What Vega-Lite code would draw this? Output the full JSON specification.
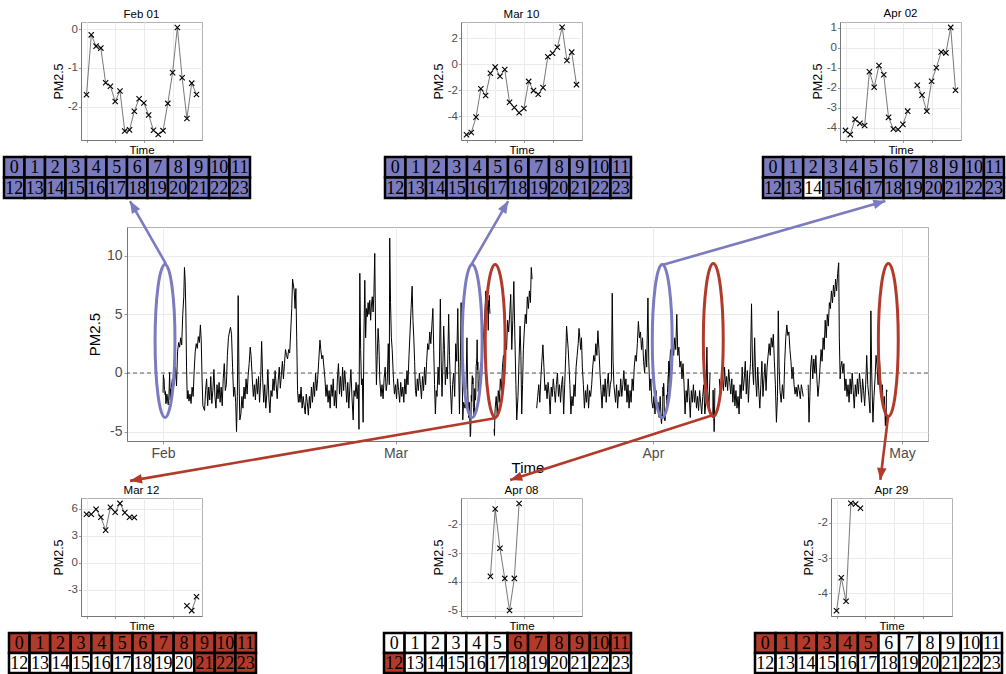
{
"$schema": "https://vega.github.io/schema/vega-lite/v6.json",
"padding": {"left": 0, "top": 7, "right": 0, "bottom": 0},
"background": "white",
"spacing": -1,
"bounds": "full",
"config": {
  "view": {"stroke": null},
  "font": "Liberation Sans",
  "axis": {"labelFont": "Liberation Sans", "titleFont": "Liberation Sans", "labelColor": "#4D4D4D", "titleColor": "#000000", "titleFontWeight": "normal", "gridColor": "#EBEBEB", "gridWidth": 1, "tickColor": "#999999", "domainColor": "#777777", "labelFlush": false},
  "title": {"font": "Liberation Sans", "fontWeight": "normal", "color": "#000000", "fontSize": 11.5, "offset": 2}
},
"datasets": {
  "main": [
{"d":0,"v":-1.69},{"d":0.042,"v":-0.15},{"d":0.083,"v":-0.44},{"d":0.125,"v":-0.49},{"d":0.167,"v":-1.38},{"d":0.208,"v":-1.47},{"d":0.25,"v":-1.86},{"d":0.292,"v":-1.59},{"d":0.333,"v":-2.62},{"d":0.375,"v":-2.59},{"d":0.417,"v":-2.11},{"d":0.458,"v":-1.79},{"d":0.5,"v":-1.9},{"d":0.542,"v":-2.21},{"d":0.583,"v":-2.6},{"d":0.625,"v":-2.71},{"d":0.667,"v":-2.61},{"d":0.708,"v":-1.91},{"d":0.75,"v":-1.12},{"d":0.792,"v":0.04},{"d":0.833,"v":-1.25},{"d":0.875,"v":-2.3},{"d":0.917,"v":-1.39},{"d":0.958,"v":-1.68},
{"d":1,"v":-1.2},{"d":1.125,"v":-0.5},{"d":1.25,"v":-1.3},{"d":1.375,"v":-0.8},{"d":1.5,"v":0.5},{"d":1.625,"v":-1.1},{"d":1.75,"v":1.8},{"d":1.875,"v":2.6},
{"d":2,"v":2.2},{"d":2.125,"v":3},{"d":2.25,"v":2.4},{"d":2.375,"v":5},{"d":2.5,"v":6.5},{"d":2.58,"v":9},{"d":2.67,"v":7.8},{"d":2.75,"v":5.2},{"d":2.83,"v":0.5},{"d":2.92,"v":-2.2},
{"d":3,"v":-1.5},{"d":3.125,"v":-2.4},{"d":3.25,"v":-1.8},{"d":3.375,"v":-2.6},{"d":3.5,"v":-1.2},{"d":3.625,"v":-2},{"d":3.75,"v":0.2},{"d":3.875,"v":1.8},
{"d":4,"v":2.5},{"d":4.125,"v":2.1},{"d":4.25,"v":3.1},{"d":4.375,"v":2.6},{"d":4.5,"v":4.1},{"d":4.6,"v":2.8},{"d":4.7,"v":-0.5},{"d":4.8,"v":-2.8},
{"d":5,"v":-3.2},{"d":5.125,"v":-1.5},{"d":5.25,"v":-0.5},{"d":5.375,"v":-2.8},{"d":5.5,"v":-1.2},{"d":5.625,"v":-2.3},{"d":5.75,"v":-0.3},{"d":5.875,"v":-2.6},
{"d":6,"v":-1.5},{"d":6.125,"v":0.3},{"d":6.25,"v":-2},{"d":6.375,"v":-3},{"d":6.5,"v":-1},{"d":6.625,"v":-2.2},{"d":6.75,"v":-0.8},{"d":6.875,"v":-2.5},
{"d":7,"v":-1.2},{"d":7.125,"v":-2.8},{"d":7.25,"v":-0.5},{"d":7.375,"v":0.8},{"d":7.5,"v":-1.5},{"d":7.625,"v":-1},{"d":7.75,"v":1.5},{"d":7.875,"v":3},
{"d":8,"v":3.5},{"d":8.125,"v":3.9},{"d":8.25,"v":3.3},{"d":8.375,"v":0.5},{"d":8.5,"v":-2},{"d":8.625,"v":-1.2},{"d":8.75,"v":-2.5},{"d":8.85,"v":-5},
{"d":8.95,"v":-2},{"d":9.05,"v":6.6},{"d":9.15,"v":-0.5},{"d":9.25,"v":-4},{"d":9.375,"v":-3.5},{"d":9.5,"v":-2},{"d":9.625,"v":-3},{"d":9.75,"v":-1.2},{"d":9.875,"v":-2.2},
{"d":10,"v":-0.5},{"d":10.125,"v":-1.8},{"d":10.25,"v":-0.2},{"d":10.375,"v":0.8},{"d":10.5,"v":2.2},{"d":10.6,"v":1.5},{"d":10.75,"v":-0.5},{"d":10.875,"v":-2},
{"d":11,"v":-1},{"d":11.125,"v":-2.3},{"d":11.25,"v":-0.5},{"d":11.375,"v":-1.8},{"d":11.5,"v":-0.3},{"d":11.625,"v":-2.5},{"d":11.75,"v":-0.8},{"d":11.875,"v":2.7},
{"d":12,"v":-0.5},{"d":12.125,"v":-2.5},{"d":12.25,"v":-1},{"d":12.375,"v":-3},{"d":12.5,"v":-1.8},{"d":12.625,"v":0.3},{"d":12.75,"v":-2.2},{"d":12.875,"v":-3.4},
{"d":13,"v":-1.5},{"d":13.125,"v":-2},{"d":13.25,"v":-0.5},{"d":13.375,"v":-1.5},{"d":13.5,"v":0.2},{"d":13.625,"v":-1},{"d":13.75,"v":-2.2},{"d":13.875,"v":-0.6},
{"d":14,"v":0.5},{"d":14.125,"v":-1.3},{"d":14.25,"v":-0.2},{"d":14.375,"v":1},{"d":14.5,"v":-0.5},{"d":14.625,"v":0.8},{"d":14.75,"v":2},{"d":14.875,"v":1.5},
{"d":15,"v":1.2},{"d":15.125,"v":2},{"d":15.25,"v":1.7},{"d":15.375,"v":3.5},{"d":15.5,"v":5.5},{"d":15.6,"v":8},{"d":15.7,"v":7.5},{"d":15.8,"v":7},{"d":15.9,"v":5.5},
{"d":16,"v":7.2},{"d":16.1,"v":3},{"d":16.2,"v":-1.5},{"d":16.3,"v":-2.5},{"d":16.4,"v":-1.8},{"d":16.5,"v":-2.5},{"d":16.625,"v":-1.2},{"d":16.75,"v":-3},{"d":16.875,"v":-2},
{"d":17,"v":-2.8},{"d":17.125,"v":-3.5},{"d":17.25,"v":-1.8},{"d":17.375,"v":-2.5},{"d":17.5,"v":-3.6},{"d":17.625,"v":-2},{"d":17.75,"v":-3},{"d":17.875,"v":-1.2},
{"d":18,"v":-2.5},{"d":18.125,"v":-0.8},{"d":18.25,"v":-2},{"d":18.375,"v":0},{"d":18.5,"v":-1.5},{"d":18.625,"v":-0.5},{"d":18.75,"v":1},{"d":18.9,"v":2.8},
{"d":19,"v":2},{"d":19.125,"v":1.2},{"d":19.25,"v":1.5},{"d":19.375,"v":0.5},{"d":19.5,"v":-0.5},{"d":19.625,"v":-2},{"d":19.75,"v":-1},{"d":19.875,"v":-2.5},
{"d":20,"v":-1.5},{"d":20.125,"v":-3},{"d":20.25,"v":-1},{"d":20.375,"v":-2},{"d":20.5,"v":-0.5},{"d":20.625,"v":-2.8},{"d":20.75,"v":-1.5},{"d":20.875,"v":-3},
{"d":21,"v":-0.5},{"d":21.125,"v":0.8},{"d":21.25,"v":-1.8},{"d":21.375,"v":-0.3},{"d":21.5,"v":-2},{"d":21.625,"v":0.5},{"d":21.75,"v":-1.5},{"d":21.875,"v":0.2},
{"d":22,"v":-1},{"d":22.125,"v":-2.5},{"d":22.25,"v":-0.8},{"d":22.375,"v":-3},{"d":22.5,"v":-1.2},{"d":22.625,"v":0.3},{"d":22.75,"v":-2},{"d":22.9,"v":-4},
{"d":23,"v":-1.5},{"d":23.125,"v":-2},{"d":23.25,"v":-0.8},{"d":23.375,"v":-2.2},{"d":23.5,"v":-1},{"d":23.6,"v":-4.8},{"d":23.7,"v":8.5},{"d":23.8,"v":2},{"d":23.9,"v":-1},
{"d":24,"v":-0.5},{"d":24.1,"v":-4.2},{"d":24.2,"v":3.5},{"d":24.3,"v":7.9},{"d":24.4,"v":3},{"d":24.5,"v":5.5},{"d":24.6,"v":4.8},{"d":24.7,"v":6},{"d":24.8,"v":5},{"d":24.9,"v":6.2},
{"d":25,"v":4.5},{"d":25.1,"v":5.8},{"d":25.2,"v":6.5},{"d":25.3,"v":5.2},{"d":25.4,"v":6.8},{"d":25.5,"v":10.2},{"d":25.6,"v":3.5},{"d":25.7,"v":-1},{"d":25.8,"v":1.5},{"d":25.9,"v":3.8},
{"d":26,"v":2.5},{"d":26.1,"v":-0.5},{"d":26.25,"v":-2},{"d":26.375,"v":-1},{"d":26.5,"v":-2.2},{"d":26.625,"v":-0.5},{"d":26.75,"v":0.5},{"d":26.875,"v":-1.5},
{"d":27,"v":-0.8},{"d":27.125,"v":2.5},{"d":27.25,"v":-1},{"d":27.3,"v":11.5},{"d":27.4,"v":6},{"d":27.5,"v":3},{"d":27.6,"v":2},{"d":27.75,"v":-0.5},{"d":27.875,"v":-1.8},
{"d":28,"v":-1},{"d":28.125,"v":-2.2},{"d":28.25,"v":-0.5},{"d":28.375,"v":-1.5},{"d":28.5,"v":-2.5},{"d":28.625,"v":-0.8},{"d":28.75,"v":-2},{"d":28.875,"v":-1.2},
{"d":29,"v":-2.5},{"d":29.125,"v":-0.5},{"d":29.25,"v":-1.8},{"d":29.375,"v":0.2},{"d":29.5,"v":-1},{"d":29.625,"v":1.5},{"d":29.75,"v":3.5},{"d":29.875,"v":5.5},
{"d":30,"v":7.4},{"d":30.1,"v":4.5},{"d":30.2,"v":3},{"d":30.3,"v":1},{"d":30.4,"v":-1.5},{"d":30.5,"v":-2},{"d":30.625,"v":-0.5},{"d":30.75,"v":-1.5},{"d":30.875,"v":0},
{"d":31,"v":-1},{"d":31.125,"v":-2.2},{"d":31.25,"v":-0.3},{"d":31.375,"v":-1.5},{"d":31.5,"v":0.5},{"d":31.625,"v":-1},{"d":31.75,"v":1},{"d":31.875,"v":2.5},
{"d":32,"v":2},{"d":32.125,"v":3.5},{"d":32.25,"v":2.5},{"d":32.375,"v":4},{"d":32.5,"v":5.5},{"d":32.6,"v":2},{"d":32.7,"v":-1},{"d":32.8,"v":-3.5},{"d":32.9,"v":-1.5},
{"d":33,"v":-2},{"d":33.125,"v":0.5},{"d":33.25,"v":-1},{"d":33.4,"v":6.3},{"d":33.5,"v":1},{"d":33.6,"v":-2},{"d":33.7,"v":0.5},{"d":33.8,"v":4},{"d":33.9,"v":2},
{"d":34,"v":-1},{"d":34.125,"v":0.5},{"d":34.25,"v":-0.5},{"d":34.4,"v":5},{"d":34.5,"v":1.5},{"d":34.6,"v":-1},{"d":34.75,"v":-3.5},{"d":34.875,"v":-1},
{"d":35,"v":0},{"d":35.125,"v":-2},{"d":35.25,"v":2.5},{"d":35.375,"v":1},{"d":35.5,"v":5.5},{"d":35.6,"v":0.5},{"d":35.7,"v":-3.5},{"d":35.8,"v":1},{"d":35.9,"v":6},
{"d":36,"v":2},{"d":36.1,"v":-4},{"d":36.2,"v":-2.5},{"d":36.375,"v":-3},{"d":36.5,"v":-1},{"d":36.6,"v":3},{"d":36.7,"v":-1.5},{"d":36.8,"v":-3.8},{"d":36.9,"v":-2.5},
{"d":37,"v":-5.43},{"d":37.042,"v":-5.26},{"d":37.083,"v":-4.08},{"d":37.125,"v":-1.89},{"d":37.167,"v":-2.42},{"d":37.208,"v":-0.71},{"d":37.25,"v":-0.23},{"d":37.292,"v":-0.94},{"d":37.333,"v":-0.41},{"d":37.375,"v":-2.93},{"d":37.417,"v":-3.34},{"d":37.458,"v":-3.75},{"d":37.5,"v":-3.42},{"d":37.542,"v":-1.33},{"d":37.583,"v":-2.04},{"d":37.625,"v":-2.32},{"d":37.667,"v":-1.81},{"d":37.708,"v":0.56},{"d":37.75,"v":0.84},{"d":37.792,"v":1.3},{"d":37.833,"v":2.83},{"d":37.875,"v":0.28},{"d":37.917,"v":0.92},{"d":37.958,"v":-1.58},
{"d":38,"v":-1.2},{"d":38.125,"v":-0.5},{"d":38.25,"v":0.8},{"d":38.375,"v":-0.2},{"d":38.5,"v":2},{"d":38.625,"v":3.5},{"d":38.75,"v":5},{"d":38.875,"v":7},
{"d":39,"v":5.4},{"d":39.042,"v":5.4},{"d":39.083,"v":5.96},{"d":39.125,"v":5.07},{"d":39.167,"v":3.64},{"d":39.208,"v":6.18},{"d":39.25,"v":5.63},{"d":39.292,"v":6.62},{"d":39.333,"v":5.59},{"d":39.375,"v":5.07},{"d":39.417,"v":5.04},{"d":39.6,"v":null},{"d":39.875,"v":-4.78},{"d":39.917,"v":-5.33},{"d":39.958,"v":-3.79},
{"d":40,"v":-3},{"d":40.125,"v":-2},{"d":40.25,"v":-3.5},{"d":40.375,"v":-1.5},{"d":40.5,"v":-2.5},{"d":40.625,"v":-0.5},{"d":40.75,"v":-1.5},{"d":40.875,"v":0.5},
{"d":41,"v":1.5},{"d":41.125,"v":0.5},{"d":41.25,"v":3},{"d":41.375,"v":2},{"d":41.5,"v":4.5},{"d":41.625,"v":3.5},{"d":41.75,"v":5},{"d":41.875,"v":6.7},
{"d":42,"v":2},{"d":42.125,"v":4.5},{"d":42.25,"v":7.8},{"d":42.375,"v":3},{"d":42.5,"v":-1},{"d":42.6,"v":-4},{"d":42.75,"v":-2},{"d":42.875,"v":1},
{"d":43,"v":4},{"d":43.1,"v":1.5},{"d":43.2,"v":-3.5},{"d":43.3,"v":-1},{"d":43.4,"v":2},{"d":43.5,"v":3.5},{"d":43.625,"v":5},{"d":43.75,"v":4.2},{"d":43.875,"v":6.5},
{"d":44,"v":5.5},{"d":44.125,"v":7},{"d":44.25,"v":6},{"d":44.35,"v":9},{"d":44.45,"v":8},{"d":44.7,"v":null},
{"d":45,"v":-3},{"d":45.125,"v":-2},{"d":45.25,"v":-1},{"d":45.375,"v":-2.5},{"d":45.5,"v":-0.5},{"d":45.625,"v":1},{"d":45.75,"v":2.4},{"d":45.875,"v":0.5},
{"d":46,"v":-1.5},{"d":46.125,"v":-1},{"d":46.25,"v":-2.2},{"d":46.375,"v":-0.8},{"d":46.5,"v":-1.8},{"d":46.625,"v":-3.5},{"d":46.75,"v":-1.2},{"d":46.875,"v":-2},
{"d":47,"v":-0.5},{"d":47.125,"v":-1.5},{"d":47.25,"v":-2.5},{"d":47.375,"v":-1},{"d":47.5,"v":0},{"d":47.625,"v":-2},{"d":47.75,"v":-1},{"d":47.875,"v":-2.5},
{"d":48,"v":-1},{"d":48.125,"v":-0.3},{"d":48.25,"v":-3.5},{"d":48.375,"v":-1},{"d":48.5,"v":1.5},{"d":48.6,"v":4},{"d":48.7,"v":3},{"d":48.8,"v":2},{"d":48.9,"v":0.5},
{"d":49,"v":-1},{"d":49.125,"v":-3.5},{"d":49.25,"v":-2},{"d":49.375,"v":-2.8},{"d":49.5,"v":-1},{"d":49.625,"v":-2},{"d":49.75,"v":0.5},{"d":49.875,"v":1.5},
{"d":50,"v":2.5},{"d":50.1,"v":3.8},{"d":50.2,"v":3},{"d":50.3,"v":2},{"d":50.4,"v":3},{"d":50.5,"v":0.5},{"d":50.625,"v":-1},{"d":50.75,"v":-3},{"d":50.875,"v":-1.5},
{"d":51,"v":-2.5},{"d":51.125,"v":-1},{"d":51.25,"v":-3},{"d":51.375,"v":-1.5},{"d":51.5,"v":-2},{"d":51.625,"v":-1},{"d":51.75,"v":0.5},{"d":51.875,"v":1.5},
{"d":52,"v":1},{"d":52.125,"v":2.5},{"d":52.25,"v":1.5},{"d":52.375,"v":3.6},{"d":52.5,"v":2},{"d":52.625,"v":0},{"d":52.75,"v":-1.5},{"d":52.875,"v":-3},
{"d":53,"v":-1},{"d":53.125,"v":-2},{"d":53.25,"v":-0.5},{"d":53.375,"v":-2.5},{"d":53.5,"v":-1},{"d":53.625,"v":0},{"d":53.75,"v":-2},{"d":53.875,"v":-1},
{"d":54,"v":-0.5},{"d":54.1,"v":6.8},{"d":54.2,"v":1},{"d":54.3,"v":-1},{"d":54.5,"v":-2.5},{"d":54.625,"v":-1},{"d":54.75,"v":-3},{"d":54.875,"v":-1.5},
{"d":55,"v":-2},{"d":55.125,"v":-0.5},{"d":55.25,"v":-2},{"d":55.375,"v":-1},{"d":55.5,"v":0.2},{"d":55.625,"v":-1.5},{"d":55.75,"v":-0.5},{"d":55.875,"v":-2.5},
{"d":56,"v":-1},{"d":56.125,"v":-3},{"d":56.25,"v":-1.5},{"d":56.375,"v":-2.5},{"d":56.5,"v":-0.5},{"d":56.625,"v":-1.5},{"d":56.75,"v":0.5},{"d":56.875,"v":1.5},
{"d":57,"v":1},{"d":57.125,"v":2.5},{"d":57.25,"v":4.4},{"d":57.375,"v":3},{"d":57.5,"v":3.5},{"d":57.625,"v":2},{"d":57.75,"v":3},{"d":57.875,"v":1},
{"d":58,"v":0},{"d":58.125,"v":2},{"d":58.25,"v":0.5},{"d":58.4,"v":6.4},{"d":58.5,"v":1},{"d":58.625,"v":-1.5},{"d":58.75,"v":-0.5},{"d":58.875,"v":-2.5},
{"d":59,"v":-3},{"d":59.125,"v":-2},{"d":59.25,"v":-3.5},{"d":59.375,"v":-1.5},{"d":59.5,"v":-3},{"d":59.625,"v":-2.5},{"d":59.75,"v":-3.8},{"d":59.875,"v":-2},
{"d":60,"v":-4.12},{"d":60.042,"v":-4.33},{"d":60.083,"v":-3.57},{"d":60.125,"v":-3.77},{"d":60.167,"v":-3.88},{"d":60.208,"v":-1.19},{"d":60.25,"v":-1.97},{"d":60.292,"v":-0.88},{"d":60.333,"v":-1.34},{"d":60.375,"v":-3.47},{"d":60.417,"v":-4.05},{"d":60.458,"v":-4.08},{"d":60.5,"v":-3.82},{"d":60.542,"v":-3.16},{"d":60.583,"v":null},{"d":60.625,"v":-1.87},{"d":60.667,"v":-2.36},{"d":60.708,"v":-3.16},{"d":60.75,"v":-1.67},{"d":60.792,"v":-0.99},{"d":60.833,"v":-0.21},{"d":60.875,"v":-0.25},{"d":60.917,"v":1.02},{"d":60.958,"v":-2.12},
{"d":61,"v":0.5},{"d":61.125,"v":2},{"d":61.25,"v":1},{"d":61.375,"v":2.5},{"d":61.5,"v":1.5},{"d":61.625,"v":3},{"d":61.75,"v":2},{"d":61.875,"v":5},
{"d":62,"v":1.5},{"d":62.125,"v":2.2},{"d":62.25,"v":0.5},{"d":62.375,"v":1},{"d":62.5,"v":-0.5},{"d":62.625,"v":0.8},{"d":62.75,"v":-1},{"d":62.875,"v":-3.5},
{"d":63,"v":-1.5},{"d":63.125,"v":-2.5},{"d":63.25,"v":-0.5},{"d":63.375,"v":-2},{"d":63.5,"v":-3.8},{"d":63.625,"v":-1.5},{"d":63.75,"v":-2.5},{"d":63.875,"v":-1},
{"d":64,"v":-2.5},{"d":64.125,"v":-1.5},{"d":64.25,"v":-3},{"d":64.375,"v":-2},{"d":64.5,"v":-3.2},{"d":64.625,"v":-1.5},{"d":64.75,"v":-2.5},{"d":64.875,"v":-3.5},
{"d":65,"v":-2},{"d":65.125,"v":-1},{"d":65.25,"v":-3.5},{"d":65.375,"v":-2.5},{"d":65.5,"v":2.2},{"d":65.6,"v":-1.5},{"d":65.75,"v":-3},{"d":65.875,"v":0},
{"d":66.05,"v":null},{"d":66.208,"v":-3.81},{"d":66.25,"v":-1.46},{"d":66.292,"v":-2.83},{"d":66.333,"v":-3.88},{"d":66.375,"v":-5},{"d":66.417,"v":-3.88},{"d":66.458,"v":-1.27},{"d":66.7,"v":null},
{"d":67,"v":-0.5},{"d":67.125,"v":-2},{"d":67.25,"v":-1},{"d":67.375,"v":-0.5},{"d":67.5,"v":-1.5},{"d":67.625,"v":0.5},{"d":67.75,"v":-1.2},{"d":67.875,"v":-0.3},
{"d":68,"v":-1.5},{"d":68.125,"v":0.3},{"d":68.25,"v":-0.8},{"d":68.375,"v":-1.8},{"d":68.5,"v":-0.5},{"d":68.625,"v":-2.5},{"d":68.75,"v":-1},{"d":68.875,"v":-2.8},
{"d":69,"v":-1.5},{"d":69.125,"v":-3},{"d":69.25,"v":-2},{"d":69.375,"v":-3.5},{"d":69.5,"v":-1},{"d":69.625,"v":-2.2},{"d":69.75,"v":0.5},{"d":69.875,"v":-1.5},
{"d":70,"v":-0.5},{"d":70.125,"v":1},{"d":70.25,"v":-1.8},{"d":70.375,"v":0.2},{"d":70.5,"v":-2.5},{"d":70.625,"v":-0.5},{"d":70.75,"v":0.8},{"d":70.875,"v":5.9},
{"d":71,"v":0.5},{"d":71.125,"v":-1},{"d":71.25,"v":3},{"d":71.375,"v":-0.5},{"d":71.5,"v":-2},{"d":71.625,"v":0.5},{"d":71.75,"v":-1.5},{"d":71.875,"v":-3},
{"d":72,"v":-1},{"d":72.125,"v":1},{"d":72.25,"v":-2},{"d":72.375,"v":-0.5},{"d":72.5,"v":0.8},{"d":72.625,"v":-1.5},{"d":72.75,"v":0.5},{"d":72.875,"v":1.5},
{"d":73,"v":2.5},{"d":73.125,"v":1.5},{"d":73.25,"v":3},{"d":73.375,"v":2.2},{"d":73.5,"v":3.3},{"d":73.625,"v":1},{"d":73.75,"v":-1},{"d":73.875,"v":-4.2},
{"d":74,"v":-2},{"d":74.1,"v":5.3},{"d":74.2,"v":0.5},{"d":74.3,"v":-1.5},{"d":74.45,"v":-2.5},{"d":74.6,"v":-1},{"d":74.75,"v":-2.2},{"d":74.875,"v":1},
{"d":75,"v":3},{"d":75.125,"v":4.1},{"d":75.25,"v":3.2},{"d":75.375,"v":3.5},{"d":75.5,"v":2},{"d":75.625,"v":1},{"d":75.75,"v":-0.5},{"d":75.875,"v":0.5},
{"d":76,"v":-1},{"d":76.125,"v":-1.8},{"d":76.25,"v":-1.2},{"d":76.375,"v":-2},{"d":76.5,"v":-1},{"d":76.625,"v":-1.5},{"d":76.75,"v":-2.2},{"d":76.875,"v":-1},
{"d":77,"v":-1.5},{"d":77.1,"v":-2},{"d":77.25,"v":null},{"d":77.5,"v":-1.4},{"d":77.55,"v":-1.4},{"d":77.6,"v":null},{"d":77.7,"v":-1},{"d":77.8,"v":-4.2},{"d":77.9,"v":-2},
{"d":78,"v":0.5},{"d":78.125,"v":1.5},{"d":78.25,"v":-0.5},{"d":78.375,"v":1.2},{"d":78.5,"v":0},{"d":78.625,"v":1.5},{"d":78.75,"v":-0.5},{"d":78.875,"v":-2},
{"d":79,"v":-1},{"d":79.125,"v":0.5},{"d":79.25,"v":2},{"d":79.375,"v":1},{"d":79.5,"v":3},{"d":79.625,"v":2},{"d":79.75,"v":4.5},{"d":79.875,"v":3},
{"d":80,"v":5},{"d":80.125,"v":4},{"d":80.25,"v":6},{"d":80.375,"v":5.5},{"d":80.5,"v":7},{"d":80.625,"v":6},{"d":80.75,"v":7.5},{"d":80.875,"v":6.5},
{"d":81,"v":8},{"d":81.125,"v":7},{"d":81.25,"v":8.5},{"d":81.375,"v":9.4},{"d":81.45,"v":3},{"d":81.55,"v":-0.5},{"d":81.625,"v":0.5},{"d":81.75,"v":1},{"d":81.875,"v":0},
{"d":82,"v":0.8},{"d":82.125,"v":-1.5},{"d":82.25,"v":-0.5},{"d":82.375,"v":-2},{"d":82.5,"v":-1},{"d":82.625,"v":-2.5},{"d":82.75,"v":-0.5},{"d":82.875,"v":-1.8},
{"d":83,"v":0},{"d":83.125,"v":-1.5},{"d":83.25,"v":-3},{"d":83.375,"v":-1},{"d":83.5,"v":-2},{"d":83.625,"v":-0.5},{"d":83.75,"v":-1.8},{"d":83.875,"v":0},
{"d":84,"v":-1},{"d":84.125,"v":-2.5},{"d":84.25,"v":-0.5},{"d":84.375,"v":-1.5},{"d":84.5,"v":-2.8},{"d":84.625,"v":-1},{"d":84.75,"v":1.5},{"d":84.875,"v":-1},
{"d":85,"v":-2},{"d":85.15,"v":-3.4},{"d":85.25,"v":5.3},{"d":85.35,"v":0},{"d":85.5,"v":-4.2},{"d":85.625,"v":-2},{"d":85.75,"v":-0.5},{"d":85.875,"v":1.5},
{"d":86,"v":0.5},{"d":86.125,"v":-1},{"d":86.25,"v":1.7},{"d":86.375,"v":0},{"d":86.5,"v":-2},{"d":86.625,"v":-1},{"d":86.75,"v":-3},{"d":86.875,"v":-2},
{"d":87,"v":-4.5},{"d":87.042,"v":-3.56},{"d":87.083,"v":-4.23},{"d":87.125,"v":-1.44},{"d":87.167,"v":-1.46},{"d":87.208,"v":-1.58}
  ],
  "small": [
{"p":"Feb 01","h":0,"v":-1.69},{"p":"Feb 01","h":1,"v":-0.15},{"p":"Feb 01","h":2,"v":-0.44},{"p":"Feb 01","h":3,"v":-0.49},{"p":"Feb 01","h":4,"v":-1.38},{"p":"Feb 01","h":5,"v":-1.47},{"p":"Feb 01","h":6,"v":-1.86},{"p":"Feb 01","h":7,"v":-1.59},{"p":"Feb 01","h":8,"v":-2.62},{"p":"Feb 01","h":9,"v":-2.59},{"p":"Feb 01","h":10,"v":-2.11},{"p":"Feb 01","h":11,"v":-1.79},{"p":"Feb 01","h":12,"v":-1.9},{"p":"Feb 01","h":13,"v":-2.21},{"p":"Feb 01","h":14,"v":-2.6},{"p":"Feb 01","h":15,"v":-2.71},{"p":"Feb 01","h":16,"v":-2.61},{"p":"Feb 01","h":17,"v":-1.91},{"p":"Feb 01","h":18,"v":-1.12},{"p":"Feb 01","h":19,"v":0.04},{"p":"Feb 01","h":20,"v":-1.25},{"p":"Feb 01","h":21,"v":-2.3},{"p":"Feb 01","h":22,"v":-1.39},{"p":"Feb 01","h":23,"v":-1.68},
{"p":"Mar 10","h":0,"v":-5.43},{"p":"Mar 10","h":1,"v":-5.26},{"p":"Mar 10","h":2,"v":-4.08},{"p":"Mar 10","h":3,"v":-1.89},{"p":"Mar 10","h":4,"v":-2.42},{"p":"Mar 10","h":5,"v":-0.71},{"p":"Mar 10","h":6,"v":-0.23},{"p":"Mar 10","h":7,"v":-0.94},{"p":"Mar 10","h":8,"v":-0.41},{"p":"Mar 10","h":9,"v":-2.93},{"p":"Mar 10","h":10,"v":-3.34},{"p":"Mar 10","h":11,"v":-3.75},{"p":"Mar 10","h":12,"v":-3.42},{"p":"Mar 10","h":13,"v":-1.33},{"p":"Mar 10","h":14,"v":-2.04},{"p":"Mar 10","h":15,"v":-2.32},{"p":"Mar 10","h":16,"v":-1.81},{"p":"Mar 10","h":17,"v":0.56},{"p":"Mar 10","h":18,"v":0.84},{"p":"Mar 10","h":19,"v":1.3},{"p":"Mar 10","h":20,"v":2.83},{"p":"Mar 10","h":21,"v":0.28},{"p":"Mar 10","h":22,"v":0.92},{"p":"Mar 10","h":23,"v":-1.58},
{"p":"Apr 02","h":0,"v":-4.12},{"p":"Apr 02","h":1,"v":-4.33},{"p":"Apr 02","h":2,"v":-3.57},{"p":"Apr 02","h":3,"v":-3.77},{"p":"Apr 02","h":4,"v":-3.88},{"p":"Apr 02","h":5,"v":-1.19},{"p":"Apr 02","h":6,"v":-1.97},{"p":"Apr 02","h":7,"v":-0.88},{"p":"Apr 02","h":8,"v":-1.34},{"p":"Apr 02","h":9,"v":-3.47},{"p":"Apr 02","h":10,"v":-4.05},{"p":"Apr 02","h":11,"v":-4.08},{"p":"Apr 02","h":12,"v":-3.82},{"p":"Apr 02","h":13,"v":-3.16},{"p":"Apr 02","h":14,"v":null},{"p":"Apr 02","h":15,"v":-1.87},{"p":"Apr 02","h":16,"v":-2.36},{"p":"Apr 02","h":17,"v":-3.16},{"p":"Apr 02","h":18,"v":-1.67},{"p":"Apr 02","h":19,"v":-0.99},{"p":"Apr 02","h":20,"v":-0.21},{"p":"Apr 02","h":21,"v":-0.25},{"p":"Apr 02","h":22,"v":1.02},{"p":"Apr 02","h":23,"v":-2.12},
{"p":"Mar 12","h":0,"v":5.4},{"p":"Mar 12","h":1,"v":5.4},{"p":"Mar 12","h":2,"v":5.96},{"p":"Mar 12","h":3,"v":5.07},{"p":"Mar 12","h":4,"v":3.64},{"p":"Mar 12","h":5,"v":6.18},{"p":"Mar 12","h":6,"v":5.63},{"p":"Mar 12","h":7,"v":6.62},{"p":"Mar 12","h":8,"v":5.59},{"p":"Mar 12","h":9,"v":5.07},{"p":"Mar 12","h":10,"v":5.04},{"p":"Mar 12","h":15,"v":null},{"p":"Mar 12","h":21,"v":-4.78},{"p":"Mar 12","h":22,"v":-5.33},{"p":"Mar 12","h":23,"v":-3.79},
{"p":"Apr 08","h":5,"v":-3.81},{"p":"Apr 08","h":6,"v":-1.46},{"p":"Apr 08","h":7,"v":-2.83},{"p":"Apr 08","h":8,"v":-3.88},{"p":"Apr 08","h":9,"v":-5},{"p":"Apr 08","h":10,"v":-3.88},{"p":"Apr 08","h":11,"v":-1.27},
{"p":"Apr 29","h":0,"v":-4.5},{"p":"Apr 29","h":1,"v":-3.56},{"p":"Apr 29","h":2,"v":-4.23},{"p":"Apr 29","h":3,"v":-1.44},{"p":"Apr 29","h":4,"v":-1.46},{"p":"Apr 29","h":5,"v":-1.58}
  ],
  "grid": [
{"p":"Feb 01","h":0,"k":"A"},{"p":"Feb 01","h":1,"k":"A"},{"p":"Feb 01","h":2,"k":"A"},{"p":"Feb 01","h":3,"k":"A"},{"p":"Feb 01","h":4,"k":"A"},{"p":"Feb 01","h":5,"k":"A"},{"p":"Feb 01","h":6,"k":"A"},{"p":"Feb 01","h":7,"k":"A"},{"p":"Feb 01","h":8,"k":"A"},{"p":"Feb 01","h":9,"k":"A"},{"p":"Feb 01","h":10,"k":"A"},{"p":"Feb 01","h":11,"k":"A"},{"p":"Feb 01","h":12,"k":"A"},{"p":"Feb 01","h":13,"k":"A"},{"p":"Feb 01","h":14,"k":"A"},{"p":"Feb 01","h":15,"k":"A"},{"p":"Feb 01","h":16,"k":"A"},{"p":"Feb 01","h":17,"k":"A"},{"p":"Feb 01","h":18,"k":"A"},{"p":"Feb 01","h":19,"k":"A"},{"p":"Feb 01","h":20,"k":"A"},{"p":"Feb 01","h":21,"k":"A"},{"p":"Feb 01","h":22,"k":"A"},{"p":"Feb 01","h":23,"k":"A"},
{"p":"Mar 10","h":0,"k":"A"},{"p":"Mar 10","h":1,"k":"A"},{"p":"Mar 10","h":2,"k":"A"},{"p":"Mar 10","h":3,"k":"A"},{"p":"Mar 10","h":4,"k":"A"},{"p":"Mar 10","h":5,"k":"A"},{"p":"Mar 10","h":6,"k":"A"},{"p":"Mar 10","h":7,"k":"A"},{"p":"Mar 10","h":8,"k":"A"},{"p":"Mar 10","h":9,"k":"A"},{"p":"Mar 10","h":10,"k":"A"},{"p":"Mar 10","h":11,"k":"A"},{"p":"Mar 10","h":12,"k":"A"},{"p":"Mar 10","h":13,"k":"A"},{"p":"Mar 10","h":14,"k":"A"},{"p":"Mar 10","h":15,"k":"A"},{"p":"Mar 10","h":16,"k":"A"},{"p":"Mar 10","h":17,"k":"A"},{"p":"Mar 10","h":18,"k":"A"},{"p":"Mar 10","h":19,"k":"A"},{"p":"Mar 10","h":20,"k":"A"},{"p":"Mar 10","h":21,"k":"A"},{"p":"Mar 10","h":22,"k":"A"},{"p":"Mar 10","h":23,"k":"A"},
{"p":"Apr 02","h":0,"k":"A"},{"p":"Apr 02","h":1,"k":"A"},{"p":"Apr 02","h":2,"k":"A"},{"p":"Apr 02","h":3,"k":"A"},{"p":"Apr 02","h":4,"k":"A"},{"p":"Apr 02","h":5,"k":"A"},{"p":"Apr 02","h":6,"k":"A"},{"p":"Apr 02","h":7,"k":"A"},{"p":"Apr 02","h":8,"k":"A"},{"p":"Apr 02","h":9,"k":"A"},{"p":"Apr 02","h":10,"k":"A"},{"p":"Apr 02","h":11,"k":"A"},{"p":"Apr 02","h":12,"k":"A"},{"p":"Apr 02","h":13,"k":"A"},{"p":"Apr 02","h":14,"k":"N"},{"p":"Apr 02","h":15,"k":"A"},{"p":"Apr 02","h":16,"k":"A"},{"p":"Apr 02","h":17,"k":"A"},{"p":"Apr 02","h":18,"k":"A"},{"p":"Apr 02","h":19,"k":"A"},{"p":"Apr 02","h":20,"k":"A"},{"p":"Apr 02","h":21,"k":"A"},{"p":"Apr 02","h":22,"k":"A"},{"p":"Apr 02","h":23,"k":"A"},
{"p":"Mar 12","h":0,"k":"B"},{"p":"Mar 12","h":1,"k":"B"},{"p":"Mar 12","h":2,"k":"B"},{"p":"Mar 12","h":3,"k":"B"},{"p":"Mar 12","h":4,"k":"B"},{"p":"Mar 12","h":5,"k":"B"},{"p":"Mar 12","h":6,"k":"B"},{"p":"Mar 12","h":7,"k":"B"},{"p":"Mar 12","h":8,"k":"B"},{"p":"Mar 12","h":9,"k":"B"},{"p":"Mar 12","h":10,"k":"B"},{"p":"Mar 12","h":11,"k":"B"},{"p":"Mar 12","h":12,"k":"N"},{"p":"Mar 12","h":13,"k":"N"},{"p":"Mar 12","h":14,"k":"N"},{"p":"Mar 12","h":15,"k":"N"},{"p":"Mar 12","h":16,"k":"N"},{"p":"Mar 12","h":17,"k":"N"},{"p":"Mar 12","h":18,"k":"N"},{"p":"Mar 12","h":19,"k":"N"},{"p":"Mar 12","h":20,"k":"N"},{"p":"Mar 12","h":21,"k":"B"},{"p":"Mar 12","h":22,"k":"B"},{"p":"Mar 12","h":23,"k":"B"},
{"p":"Apr 08","h":0,"k":"N"},{"p":"Apr 08","h":1,"k":"N"},{"p":"Apr 08","h":2,"k":"N"},{"p":"Apr 08","h":3,"k":"N"},{"p":"Apr 08","h":4,"k":"N"},{"p":"Apr 08","h":5,"k":"N"},{"p":"Apr 08","h":6,"k":"B"},{"p":"Apr 08","h":7,"k":"B"},{"p":"Apr 08","h":8,"k":"B"},{"p":"Apr 08","h":9,"k":"B"},{"p":"Apr 08","h":10,"k":"B"},{"p":"Apr 08","h":11,"k":"B"},{"p":"Apr 08","h":12,"k":"B"},{"p":"Apr 08","h":13,"k":"N"},{"p":"Apr 08","h":14,"k":"N"},{"p":"Apr 08","h":15,"k":"N"},{"p":"Apr 08","h":16,"k":"N"},{"p":"Apr 08","h":17,"k":"N"},{"p":"Apr 08","h":18,"k":"N"},{"p":"Apr 08","h":19,"k":"N"},{"p":"Apr 08","h":20,"k":"N"},{"p":"Apr 08","h":21,"k":"N"},{"p":"Apr 08","h":22,"k":"N"},{"p":"Apr 08","h":23,"k":"N"},
{"p":"Apr 29","h":0,"k":"B"},{"p":"Apr 29","h":1,"k":"B"},{"p":"Apr 29","h":2,"k":"B"},{"p":"Apr 29","h":3,"k":"B"},{"p":"Apr 29","h":4,"k":"B"},{"p":"Apr 29","h":5,"k":"B"},{"p":"Apr 29","h":6,"k":"N"},{"p":"Apr 29","h":7,"k":"N"},{"p":"Apr 29","h":8,"k":"N"},{"p":"Apr 29","h":9,"k":"N"},{"p":"Apr 29","h":10,"k":"N"},{"p":"Apr 29","h":11,"k":"N"},{"p":"Apr 29","h":12,"k":"N"},{"p":"Apr 29","h":13,"k":"N"},{"p":"Apr 29","h":14,"k":"N"},{"p":"Apr 29","h":15,"k":"N"},{"p":"Apr 29","h":16,"k":"N"},{"p":"Apr 29","h":17,"k":"N"},{"p":"Apr 29","h":18,"k":"N"},{"p":"Apr 29","h":19,"k":"N"},{"p":"Apr 29","h":20,"k":"N"},{"p":"Apr 29","h":21,"k":"N"},{"p":"Apr 29","h":22,"k":"N"},{"p":"Apr 29","h":23,"k":"N"}
  ],
  "ellipses": [
{"d":0.24,"v":2.73,"k":"A"},{"d":37.23,"v":2.73,"k":"A"},{"d":40.0,"v":2.73,"k":"B"},{"d":60.12,"v":2.73,"k":"A"},{"d":66.27,"v":2.81,"k":"B"},{"d":87.35,"v":2.81,"k":"B"}
  ],
  "arrows": [
{"id":1,"k":"A","x":0.36,"y":9.29,"x2":-3.98,"y2":14.66},
{"id":2,"k":"A","x":37.11,"y":9.21,"x2":41.57,"y2":14.66},
{"id":3,"k":"A","x":60.12,"y":9.21,"x2":86.99,"y2":14.66},
{"id":4,"k":"B","x":40.12,"y":-3.84,"x2":-3.98,"y2":-9.2},
{"id":5,"k":"B","x":66.27,"y":-3.58,"x2":41.81,"y2":-9.12},
{"id":6,"k":"B","x":87.35,"y":-3.58,"x2":86.39,"y2":-9.12}
  ]
},
"vconcat": [
 {"hconcat": [
  {"width": 81, "height": 10, "data": {"values": []}, "mark": "point"},
  {"width": 121, "height": 118, "view": {"stroke": "#B3B3B3"}, "title": {"text": "Feb 01", "anchor": "middle", "frame": "group"},
   "data": {"name": "small"}, "transform": [{"filter": "datum.p == 'Feb 01'"}],
   "encoding": {"x": {"field": "h", "type": "quantitative", "scale": {"domain": [-1.15, 24.15], "nice": false, "zero": false}, "axis": {"values": [0, 6, 12, 18], "labels": false, "title": "Time", "titleFontSize": 11.5, "titlePadding": 1, "tickSize": 2.5}},
                "y": {"field": "v", "type": "quantitative", "scale": {"domain": [-2.85, 0.18], "nice": false, "zero": false}, "axis": {"values": [-2, -1, 0], "labelExpr": "'' + datum.value", "title": "PM2.5", "titleFontSize": 12.5, "labelFontSize": 11.5, "labelPadding": 1, "titlePadding": 2, "tickSize": 2.5}}},
   "layer": [{"mark": {"type": "line", "color": "#555555", "strokeWidth": 0.8, "invalid": "break-paths-show-domains"}},
             {"mark": {"type": "point", "shape": "M-1,-1L1,1M-1,1L1,-1", "filled": false, "color": "#000000", "strokeWidth": 1.1, "size": 28, "opacity": 1}}]},
  {"width": 259, "height": 10, "data": {"values": []}, "mark": "point"},
  {"width": 121, "height": 118, "view": {"stroke": "#B3B3B3"}, "title": {"text": "Mar 10", "anchor": "middle", "frame": "group"},
   "data": {"name": "small"}, "transform": [{"filter": "datum.p == 'Mar 10'"}],
   "encoding": {"x": {"field": "h", "type": "quantitative", "scale": {"domain": [-1.15, 24.15], "nice": false, "zero": false}, "axis": {"values": [0, 6, 12, 18], "labels": false, "title": "Time", "titleFontSize": 11.5, "titlePadding": 1, "tickSize": 2.5}},
                "y": {"field": "v", "type": "quantitative", "scale": {"domain": [-5.84, 3.24], "nice": false, "zero": false}, "axis": {"values": [-4, -2, 0, 2], "labelExpr": "'' + datum.value", "title": "PM2.5", "titleFontSize": 12.5, "labelFontSize": 11.5, "labelPadding": 1, "titlePadding": 2, "tickSize": 2.5}}},
   "layer": [{"mark": {"type": "line", "color": "#555555", "strokeWidth": 0.8, "invalid": "break-paths-show-domains"}},
             {"mark": {"type": "point", "shape": "M-1,-1L1,1M-1,1L1,-1", "filled": false, "color": "#000000", "strokeWidth": 1.1, "size": 28, "opacity": 1}}]},
  {"width": 258, "height": 10, "data": {"values": []}, "mark": "point"},
  {"width": 121, "height": 118, "view": {"stroke": "#B3B3B3"}, "title": {"text": "Apr 02", "anchor": "middle", "frame": "group"},
   "data": {"name": "small"}, "transform": [{"filter": "datum.p == 'Apr 02'"}],
   "encoding": {"x": {"field": "h", "type": "quantitative", "scale": {"domain": [-1.15, 24.15], "nice": false, "zero": false}, "axis": {"values": [0, 6, 12, 18], "labels": false, "title": "Time", "titleFontSize": 11.5, "titlePadding": 1, "tickSize": 2.5}},
                "y": {"field": "v", "type": "quantitative", "scale": {"domain": [-4.6, 1.29], "nice": false, "zero": false}, "axis": {"values": [-4, -3, -2, -1, 0, 1], "labelExpr": "'' + datum.value", "title": "PM2.5", "titleFontSize": 12.5, "labelFontSize": 11.5, "labelPadding": 1, "titlePadding": 2, "tickSize": 2.5}}},
   "layer": [{"mark": {"type": "line", "color": "#555555", "strokeWidth": 0.8, "invalid": "break-paths-show-domains"}},
             {"mark": {"type": "point", "shape": "M-1,-1L1,1M-1,1L1,-1", "filled": false, "color": "#000000", "strokeWidth": 1.1, "size": 28, "opacity": 1}}]}
 ], "spacing": 0, "bounds": "flush"},
 {"hconcat": [
  {"width": 4, "height": 10, "data": {"values": []}, "mark": "point"},
  {"width": 246, "height": 41, "data": {"name": "grid"}, "transform": [{"filter": "datum.p == 'Feb 01'"}, {"calculate": "datum.h % 12", "as": "col"}, {"calculate": "floor(datum.h / 12)", "as": "row"}],
   "encoding": {"x": {"field": "col", "type": "ordinal", "axis": null, "scale": {"paddingInner": 0, "paddingOuter": 0}}, "y": {"field": "row", "type": "ordinal", "axis": null, "scale": {"paddingInner": 0, "paddingOuter": 0}}},
   "layer": [{"mark": {"type": "rect", "stroke": "#000000", "strokeWidth": 2.5}, "encoding": {"fill": {"field": "k", "type": "nominal", "scale": {"domain": ["A", "B", "N"], "range": ["#7B7BBF", "#B23A2A", "#FFFFFF"]}, "legend": null}}},
             {"mark": {"type": "text", "font": "Liberation Serif", "fontSize": 18, "color": "#000000", "baseline": "middle", "dy": 1}, "encoding": {"text": {"field": "h", "type": "nominal"}}}]},
  {"width": 135, "height": 10, "data": {"values": []}, "mark": "point"},
  {"width": 246, "height": 41, "data": {"name": "grid"}, "transform": [{"filter": "datum.p == 'Mar 10'"}, {"calculate": "datum.h % 12", "as": "col"}, {"calculate": "floor(datum.h / 12)", "as": "row"}],
   "encoding": {"x": {"field": "col", "type": "ordinal", "axis": null, "scale": {"paddingInner": 0, "paddingOuter": 0}}, "y": {"field": "row", "type": "ordinal", "axis": null, "scale": {"paddingInner": 0, "paddingOuter": 0}}},
   "layer": [{"mark": {"type": "rect", "stroke": "#000000", "strokeWidth": 2.5}, "encoding": {"fill": {"field": "k", "type": "nominal", "scale": {"domain": ["A", "B", "N"], "range": ["#7B7BBF", "#B23A2A", "#FFFFFF"]}, "legend": null}}},
             {"mark": {"type": "text", "font": "Liberation Serif", "fontSize": 18, "color": "#000000", "baseline": "middle", "dy": 1}, "encoding": {"text": {"field": "h", "type": "nominal"}}}]},
  {"width": 132, "height": 10, "data": {"values": []}, "mark": "point"},
  {"width": 241, "height": 41, "data": {"name": "grid"}, "transform": [{"filter": "datum.p == 'Apr 02'"}, {"calculate": "datum.h % 12", "as": "col"}, {"calculate": "floor(datum.h / 12)", "as": "row"}],
   "encoding": {"x": {"field": "col", "type": "ordinal", "axis": null, "scale": {"paddingInner": 0, "paddingOuter": 0}}, "y": {"field": "row", "type": "ordinal", "axis": null, "scale": {"paddingInner": 0, "paddingOuter": 0}}},
   "layer": [{"mark": {"type": "rect", "stroke": "#000000", "strokeWidth": 2.5}, "encoding": {"fill": {"field": "k", "type": "nominal", "scale": {"domain": ["A", "B", "N"], "range": ["#7B7BBF", "#B23A2A", "#FFFFFF"]}, "legend": null}}},
             {"mark": {"type": "text", "font": "Liberation Serif", "fontSize": 18, "color": "#000000", "baseline": "middle", "dy": 1}, "encoding": {"text": {"field": "h", "type": "nominal"}}}]}
 ], "spacing": 0, "bounds": "flush"},
 {"hconcat": [
  {"width": 127, "height": 10, "data": {"values": []}, "mark": "point"},
  {"width": 801, "height": 214, "view": {"stroke": "#B3B3B3"},
   "layer": [
     {"data": {"name": "main"}, "mark": {"type": "line", "color": "#000000", "strokeWidth": 1, "invalid": "break-paths-show-domains"},
      "encoding": {"x": {"field": "d", "type": "quantitative", "title": "Time", "scale": {"domain": [-4.34, 92.13], "nice": false, "zero": false},
                         "axis": {"values": [0, 28, 59, 89], "labelExpr": "datum.value == 0 ? 'Feb' : datum.value == 28 ? 'Mar' : datum.value == 59 ? 'Apr' : 'May'", "labelFontSize": 14, "titleFontSize": 15, "tickSize": 3, "labelPadding": 2, "titlePadding": 0}},
                   "y": {"field": "v", "type": "quantitative", "title": "PM2.5", "scale": {"domain": [-5.8, 12.45], "nice": false, "zero": false},
                         "axis": {"values": [-5, 0, 5, 10], "labelExpr": "'' + datum.value", "labelFontSize": 14, "titleFontSize": 15, "tickSize": 3, "labelPadding": 2, "titlePadding": 4}}}},
     {"data": {"values": [{"v": 0}]}, "mark": {"type": "rule", "color": "#333333", "strokeWidth": 0.8, "strokeDash": [4, 3]},
      "encoding": {"y": {"field": "v", "type": "quantitative", "title": "PM2.5"}}},
     {"data": {"name": "ellipses"}, "mark": {"type": "point", "shape": "M0,-1C0.072,-1,0.13,-0.552,0.13,0C0.13,0.552,0.072,1,0,1C-0.072,1,-0.13,0.552,-0.13,0C-0.13,-0.552,-0.072,-1,0,-1Z", "filled": false, "strokeWidth": 3, "opacity": 1, "size": 23409},
      "encoding": {"x": {"field": "d", "type": "quantitative", "title": "Time"}, "y": {"field": "v", "type": "quantitative", "title": "PM2.5"},
                   "stroke": {"field": "k", "type": "nominal", "scale": {"domain": ["A", "B"], "range": ["#7B7BBF", "#B23A2A"]}, "legend": null}}},
     {"data": {"name": "arrows"}, "mark": {"type": "rule", "strokeWidth": 2.6},
      "encoding": {"x": {"field": "x", "type": "quantitative", "title": "Time"}, "y": {"field": "y", "type": "quantitative", "title": "PM2.5"}, "x2": {"field": "x2"}, "y2": {"field": "y2"},
                   "stroke": {"field": "k", "type": "nominal", "scale": {"domain": ["A", "B"], "range": ["#7B7BBF", "#B23A2A"]}, "legend": null}}},
     {"data": {"name": "arrows"}, "transform": [{"filter": "datum.id == 1"}], "mark": {"type": "point", "shape": "M0,0L0.6,1.5L-0.6,1.5Z", "filled": true, "opacity": 1, "size": 256, "angle": 330},
      "encoding": {"x": {"field": "x2", "type": "quantitative", "title": "Time"}, "y": {"field": "y2", "type": "quantitative", "title": "PM2.5"}, "fill": {"field": "k", "type": "nominal", "scale": {"domain": ["A", "B", "N"], "range": ["#7B7BBF", "#B23A2A", "#FFFFFF"]}, "legend": null}}},
     {"data": {"name": "arrows"}, "transform": [{"filter": "datum.id == 2"}], "mark": {"type": "point", "shape": "M0,0L0.6,1.5L-0.6,1.5Z", "filled": true, "opacity": 1, "size": 256, "angle": 30},
      "encoding": {"x": {"field": "x2", "type": "quantitative", "title": "Time"}, "y": {"field": "y2", "type": "quantitative", "title": "PM2.5"}, "fill": {"field": "k", "type": "nominal", "scale": {"domain": ["A", "B", "N"], "range": ["#7B7BBF", "#B23A2A", "#FFFFFF"]}, "legend": null}}},
     {"data": {"name": "arrows"}, "transform": [{"filter": "datum.id == 3"}], "mark": {"type": "point", "shape": "M0,0L0.6,1.5L-0.6,1.5Z", "filled": true, "opacity": 1, "size": 256, "angle": 74},
      "encoding": {"x": {"field": "x2", "type": "quantitative", "title": "Time"}, "y": {"field": "y2", "type": "quantitative", "title": "PM2.5"}, "fill": {"field": "k", "type": "nominal", "scale": {"domain": ["A", "B", "N"], "range": ["#7B7BBF", "#B23A2A", "#FFFFFF"]}, "legend": null}}},
     {"data": {"name": "arrows"}, "transform": [{"filter": "datum.id == 4"}], "mark": {"type": "point", "shape": "M0,0L0.6,1.5L-0.6,1.5Z", "filled": true, "opacity": 1, "size": 256, "angle": 260},
      "encoding": {"x": {"field": "x2", "type": "quantitative", "title": "Time"}, "y": {"field": "y2", "type": "quantitative", "title": "PM2.5"}, "fill": {"field": "k", "type": "nominal", "scale": {"domain": ["A", "B", "N"], "range": ["#7B7BBF", "#B23A2A", "#FFFFFF"]}, "legend": null}}},
     {"data": {"name": "arrows"}, "transform": [{"filter": "datum.id == 5"}], "mark": {"type": "point", "shape": "M0,0L0.6,1.5L-0.6,1.5Z", "filled": true, "opacity": 1, "size": 256, "angle": 252},
      "encoding": {"x": {"field": "x2", "type": "quantitative", "title": "Time"}, "y": {"field": "y2", "type": "quantitative", "title": "PM2.5"}, "fill": {"field": "k", "type": "nominal", "scale": {"domain": ["A", "B", "N"], "range": ["#7B7BBF", "#B23A2A", "#FFFFFF"]}, "legend": null}}},
     {"data": {"name": "arrows"}, "transform": [{"filter": "datum.id == 6"}], "mark": {"type": "point", "shape": "M0,0L0.6,1.5L-0.6,1.5Z", "filled": true, "opacity": 1, "size": 256, "angle": 187},
      "encoding": {"x": {"field": "x2", "type": "quantitative", "title": "Time"}, "y": {"field": "y2", "type": "quantitative", "title": "PM2.5"}, "fill": {"field": "k", "type": "nominal", "scale": {"domain": ["A", "B", "N"], "range": ["#7B7BBF", "#B23A2A", "#FFFFFF"]}, "legend": null}}}
   ]}
 ], "spacing": 0, "bounds": "flush"},
 {"hconcat": [
  {"width": 81, "height": 10, "data": {"values": []}, "mark": "point"},
  {"width": 121, "height": 118, "view": {"stroke": "#B3B3B3"}, "title": {"text": "Mar 12", "anchor": "middle", "frame": "group"},
   "data": {"name": "small"}, "transform": [{"filter": "datum.p == 'Mar 12'"}],
   "encoding": {"x": {"field": "h", "type": "quantitative", "scale": {"domain": [-1.15, 24.15], "nice": false, "zero": false}, "axis": {"values": [0, 6, 12, 18], "labels": false, "title": "Time", "titleFontSize": 11.5, "titlePadding": 1, "tickSize": 2.5}},
                "y": {"field": "v", "type": "quantitative", "scale": {"domain": [-5.93, 7.22], "nice": false, "zero": false}, "axis": {"values": [-3, 0, 3, 6], "labelExpr": "'' + datum.value", "title": "PM2.5", "titleFontSize": 12.5, "labelFontSize": 11.5, "labelPadding": 1, "titlePadding": 2, "tickSize": 2.5}}},
   "layer": [{"mark": {"type": "line", "color": "#555555", "strokeWidth": 0.8, "invalid": "break-paths-show-domains"}},
             {"mark": {"type": "point", "shape": "M-1,-1L1,1M-1,1L1,-1", "filled": false, "color": "#000000", "strokeWidth": 1.1, "size": 28, "opacity": 1}}]},
  {"width": 259, "height": 10, "data": {"values": []}, "mark": "point"},
  {"width": 121, "height": 118, "view": {"stroke": "#B3B3B3"}, "title": {"text": "Apr 08", "anchor": "middle", "frame": "group"},
   "data": {"name": "small"}, "transform": [{"filter": "datum.p == 'Apr 08'"}],
   "encoding": {"x": {"field": "h", "type": "quantitative", "scale": {"domain": [-1.15, 24.15], "nice": false, "zero": false}, "axis": {"values": [0, 6, 12, 18], "labels": false, "title": "Time", "titleFontSize": 11.5, "titlePadding": 1, "tickSize": 2.5}},
                "y": {"field": "v", "type": "quantitative", "scale": {"domain": [-5.19, -1.08], "nice": false, "zero": false}, "axis": {"values": [-5, -4, -3, -2], "labelExpr": "'' + datum.value", "title": "PM2.5", "titleFontSize": 12.5, "labelFontSize": 11.5, "labelPadding": 1, "titlePadding": 2, "tickSize": 2.5}}},
   "layer": [{"mark": {"type": "line", "color": "#555555", "strokeWidth": 0.8, "invalid": "break-paths-show-domains"}},
             {"mark": {"type": "point", "shape": "M-1,-1L1,1M-1,1L1,-1", "filled": false, "color": "#000000", "strokeWidth": 1.1, "size": 28, "opacity": 1}}]},
  {"width": 249, "height": 10, "data": {"values": []}, "mark": "point"},
  {"width": 121, "height": 118, "view": {"stroke": "#B3B3B3"}, "title": {"text": "Apr 29", "anchor": "middle", "frame": "group"},
   "data": {"name": "small"}, "transform": [{"filter": "datum.p == 'Apr 29'"}],
   "encoding": {"x": {"field": "h", "type": "quantitative", "scale": {"domain": [-1.15, 24.15], "nice": false, "zero": false}, "axis": {"values": [0, 6, 12, 18], "labels": false, "title": "Time", "titleFontSize": 11.5, "titlePadding": 1, "tickSize": 2.5}},
                "y": {"field": "v", "type": "quantitative", "scale": {"domain": [-4.65, -1.29], "nice": false, "zero": false}, "axis": {"values": [-4, -3, -2], "labelExpr": "'' + datum.value", "title": "PM2.5", "titleFontSize": 12.5, "labelFontSize": 11.5, "labelPadding": 1, "titlePadding": 2, "tickSize": 2.5}}},
   "layer": [{"mark": {"type": "line", "color": "#555555", "strokeWidth": 0.8, "invalid": "break-paths-show-domains"}},
             {"mark": {"type": "point", "shape": "M-1,-1L1,1M-1,1L1,-1", "filled": false, "color": "#000000", "strokeWidth": 1.1, "size": 28, "opacity": 1}}]}
 ], "spacing": 0, "bounds": "flush"},
 {"hconcat": [
  {"width": 9, "height": 10, "data": {"values": []}, "mark": "point"},
  {"width": 247, "height": 40, "data": {"name": "grid"}, "transform": [{"filter": "datum.p == 'Mar 12'"}, {"calculate": "datum.h % 12", "as": "col"}, {"calculate": "floor(datum.h / 12)", "as": "row"}],
   "encoding": {"x": {"field": "col", "type": "ordinal", "axis": null, "scale": {"paddingInner": 0, "paddingOuter": 0}}, "y": {"field": "row", "type": "ordinal", "axis": null, "scale": {"paddingInner": 0, "paddingOuter": 0}}},
   "layer": [{"mark": {"type": "rect", "stroke": "#000000", "strokeWidth": 2.5}, "encoding": {"fill": {"field": "k", "type": "nominal", "scale": {"domain": ["A", "B", "N"], "range": ["#7B7BBF", "#B23A2A", "#FFFFFF"]}, "legend": null}}},
             {"mark": {"type": "text", "font": "Liberation Serif", "fontSize": 18, "color": "#000000", "baseline": "middle", "dy": 1}, "encoding": {"text": {"field": "h", "type": "nominal"}}}]},
  {"width": 128, "height": 10, "data": {"values": []}, "mark": "point"},
  {"width": 247, "height": 40, "data": {"name": "grid"}, "transform": [{"filter": "datum.p == 'Apr 08'"}, {"calculate": "datum.h % 12", "as": "col"}, {"calculate": "floor(datum.h / 12)", "as": "row"}],
   "encoding": {"x": {"field": "col", "type": "ordinal", "axis": null, "scale": {"paddingInner": 0, "paddingOuter": 0}}, "y": {"field": "row", "type": "ordinal", "axis": null, "scale": {"paddingInner": 0, "paddingOuter": 0}}},
   "layer": [{"mark": {"type": "rect", "stroke": "#000000", "strokeWidth": 2.5}, "encoding": {"fill": {"field": "k", "type": "nominal", "scale": {"domain": ["A", "B", "N"], "range": ["#7B7BBF", "#B23A2A", "#FFFFFF"]}, "legend": null}}},
             {"mark": {"type": "text", "font": "Liberation Serif", "fontSize": 18, "color": "#000000", "baseline": "middle", "dy": 1}, "encoding": {"text": {"field": "h", "type": "nominal"}}}]},
  {"width": 124, "height": 10, "data": {"values": []}, "mark": "point"},
  {"width": 247, "height": 40, "data": {"name": "grid"}, "transform": [{"filter": "datum.p == 'Apr 29'"}, {"calculate": "datum.h % 12", "as": "col"}, {"calculate": "floor(datum.h / 12)", "as": "row"}],
   "encoding": {"x": {"field": "col", "type": "ordinal", "axis": null, "scale": {"paddingInner": 0, "paddingOuter": 0}}, "y": {"field": "row", "type": "ordinal", "axis": null, "scale": {"paddingInner": 0, "paddingOuter": 0}}},
   "layer": [{"mark": {"type": "rect", "stroke": "#000000", "strokeWidth": 2.5}, "encoding": {"fill": {"field": "k", "type": "nominal", "scale": {"domain": ["A", "B", "N"], "range": ["#7B7BBF", "#B23A2A", "#FFFFFF"]}, "legend": null}}},
             {"mark": {"type": "text", "font": "Liberation Serif", "fontSize": 18, "color": "#000000", "baseline": "middle", "dy": 1}, "encoding": {"text": {"field": "h", "type": "nominal"}}}]}
 ], "spacing": 0, "bounds": "flush"}
]
}
